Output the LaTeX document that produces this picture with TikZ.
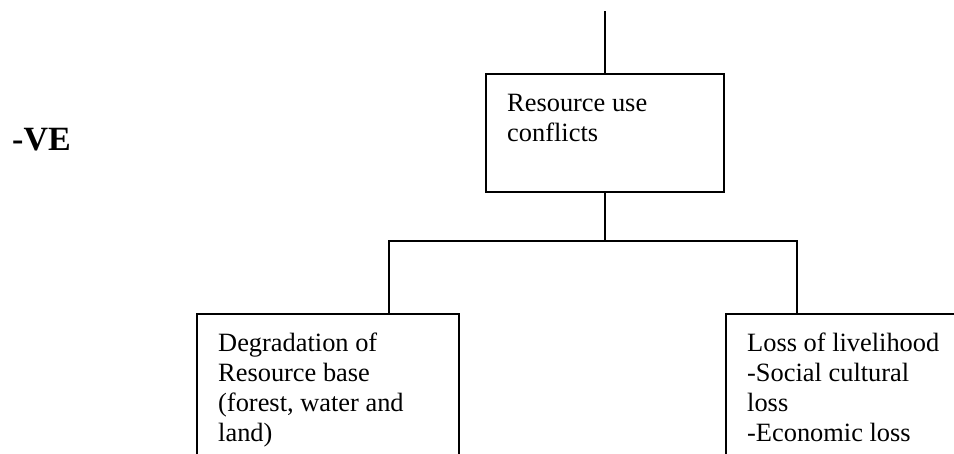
\documentclass[tikz,border=0pt]{standalone}
\usepackage{fontspec}
\setmainfont{Liberation Serif}
\begin{document}
\begin{tikzpicture}[x=1pt,y=-1pt,
  box/.style={draw, line width=1.6pt, inner sep=0pt, outer sep=0pt, anchor=north west},
  conn/.style={line width=1.6pt},
  txt/.style={anchor=north west, align=left, inner sep=0pt, font=\fontsize{26.4}{30}\selectfont}]
\useasboundingbox (0,0) rectangle (954,453);
\clip (0,0) rectangle (954,453);
\node[box, minimum width=238pt, minimum height=118pt] (rc) at (486,74) {};
\node[box, minimum width=262pt, minimum height=200pt] (deg) at (197,314) {};
\node[box, minimum width=300pt, minimum height=200pt] (loss) at (726,314) {};
\coordinate (topend) at (605,11);
\coordinate (split) at (605,241);
\coordinate (lb) at (389,241);
\coordinate (rb) at (797,241);
\draw[conn] (topend) -- (rc.north);
\draw[conn] (rc.south) -- (split);
\draw[conn] (deg.north -| lb) -- (lb) -- (rb) -- (loss.north -| rb);
\node[txt] (rct) at (507,90) {\strut Resource use\\conflicts};
\node[txt] (degt) at (218,330) {\strut Degradation of\\Resource base\\(forest, water and\\land)};
\node[txt] (losst) at (747,330) {\strut Loss of livelihood\\-Social cultural\\loss\\-Economic loss};
\node[anchor=base west, inner sep=0pt, font=\fontsize{34}{40}\selectfont\bfseries] (ve) at (12,150) {-VE};
\end{tikzpicture}
\end{document}
